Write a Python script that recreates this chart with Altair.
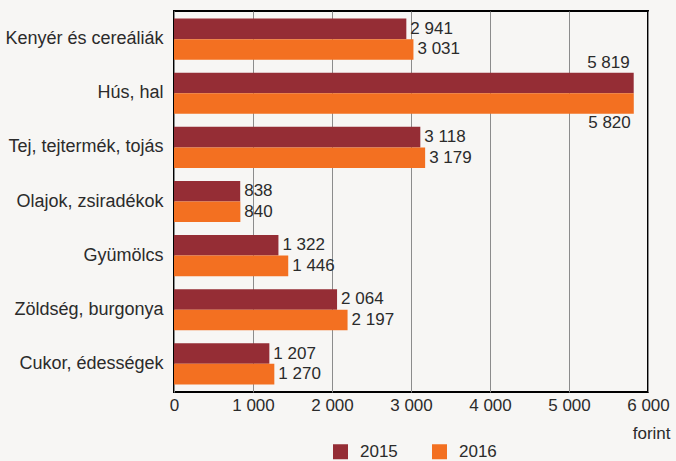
import altair as alt
import pandas as pd

categories = ["Kenyér és cereáliák", "Hús, hal", "Tej, tejtermék, tojás",
              "Olajok, zsiradékok", "Gyümölcs", "Zöldség, burgonya", "Cukor, édességek"]
years = ["2015", "2016"]
v2015 = [2941, 5819, 3118, 838, 1322, 2064, 1207]
v2016 = [3031, 5820, 3179, 840, 1446, 2197, 1270]
x_ticks = [0, 1000, 2000, 3000, 4000, 5000, 6000]
colors = ["#952d35", "#f37021"]

rows = []
for c, a, b in zip(categories, v2015, v2016):
    for y, v in zip(years, (a, b)):
        rows.append({"cat": c, "year": y, "value": v,
                     "label": f"{v:,}".replace(",", " ")})
df = pd.DataFrame(rows)

FONT = "Liberation Sans, Arial"
TXT = "#2b2b2b"
FS = 17

y_enc = alt.Y("cat:N", sort=categories,
              scale=alt.Scale(paddingInner=0.24, paddingOuter=0.14),
              axis=alt.Axis(title=None, ticks=False, domain=False, labelFontSize=18,
                            labelColor=TXT, labelFont=FONT, labelPadding=11, grid=False,
                            labelLimit=300))
yoff = alt.YOffset("year:N", sort=years, scale=alt.Scale(paddingInner=0, paddingOuter=0))
x_enc = alt.X("value:Q", scale=alt.Scale(domain=[0, 6000], nice=False),
              axis=alt.Axis(values=x_ticks, title="forint", ticks=False, domain=False,
                            labelExpr="replace(format(datum.value, ','), ',', ' ')",
                            labelFontSize=FS, labelColor=TXT, labelFont=FONT,
                            labelPadding=5, labelFlush=False, labelOverlap=False,
                            grid=True, gridColor="#8c8c8c", gridWidth=1,
                            titleFontSize=FS, titleFontWeight="normal", titleColor=TXT,
                            titleFont=FONT, titleX=496, titleY=41, titleAlign="right",
                            titleBaseline="middle", titleAnchor="end"))

base = alt.Chart(df)

bars = base.mark_bar().encode(
    x=x_enc, y=y_enc, yOffset=yoff,
    color=alt.Color("year:N", sort=years, scale=alt.Scale(domain=years, range=colors),
                    legend=alt.Legend(title=None, orient="none", direction="horizontal",
                                      legendX=158, legendY=432, symbolType="square",
                                      symbolSize=225, symbolStrokeWidth=0,
                                      labelFontSize=FS, labelColor=TXT, labelFont=FONT,
                                      labelOffset=11, columnPadding=33, padding=0))
)

text_kw = dict(fontSize=FS, font=FONT, color=TXT)
ty = alt.Y("cat:N", sort=categories)
tyo = alt.YOffset("year:N", sort=years)

normal = base.transform_filter(alt.datum.cat != "Hús, hal").mark_text(
    align="left", baseline="middle", dx=4, **text_kw
).encode(x="value:Q", y=ty, yOffset=tyo, text="label:N")

top = base.transform_filter((alt.datum.cat == "Hús, hal") & (alt.datum.year == "2015")).mark_text(
    align="right", baseline="bottom", dx=-4, dy=-11, **text_kw
).encode(x="value:Q", y=ty, yOffset=tyo, text="label:N")

bottom = base.transform_filter((alt.datum.cat == "Hús, hal") & (alt.datum.year == "2016")).mark_text(
    align="right", baseline="top", dx=-3, dy=11, **text_kw
).encode(x="value:Q", y=ty, yOffset=tyo, text="label:N")

chart = alt.layer(bars, normal, top, bottom).properties(
    width=474, height=381,
    background="#f7f6f4",
    autosize=alt.AutoSizeParams(type="none"),
    padding={"left": 174, "top": 11, "right": 28, "bottom": 69},
).configure_view(stroke="black", strokeWidth=2, fill="#f7f6f4")

chart.save("out.html", embed_options={"renderer": "svg", "actions": False})
